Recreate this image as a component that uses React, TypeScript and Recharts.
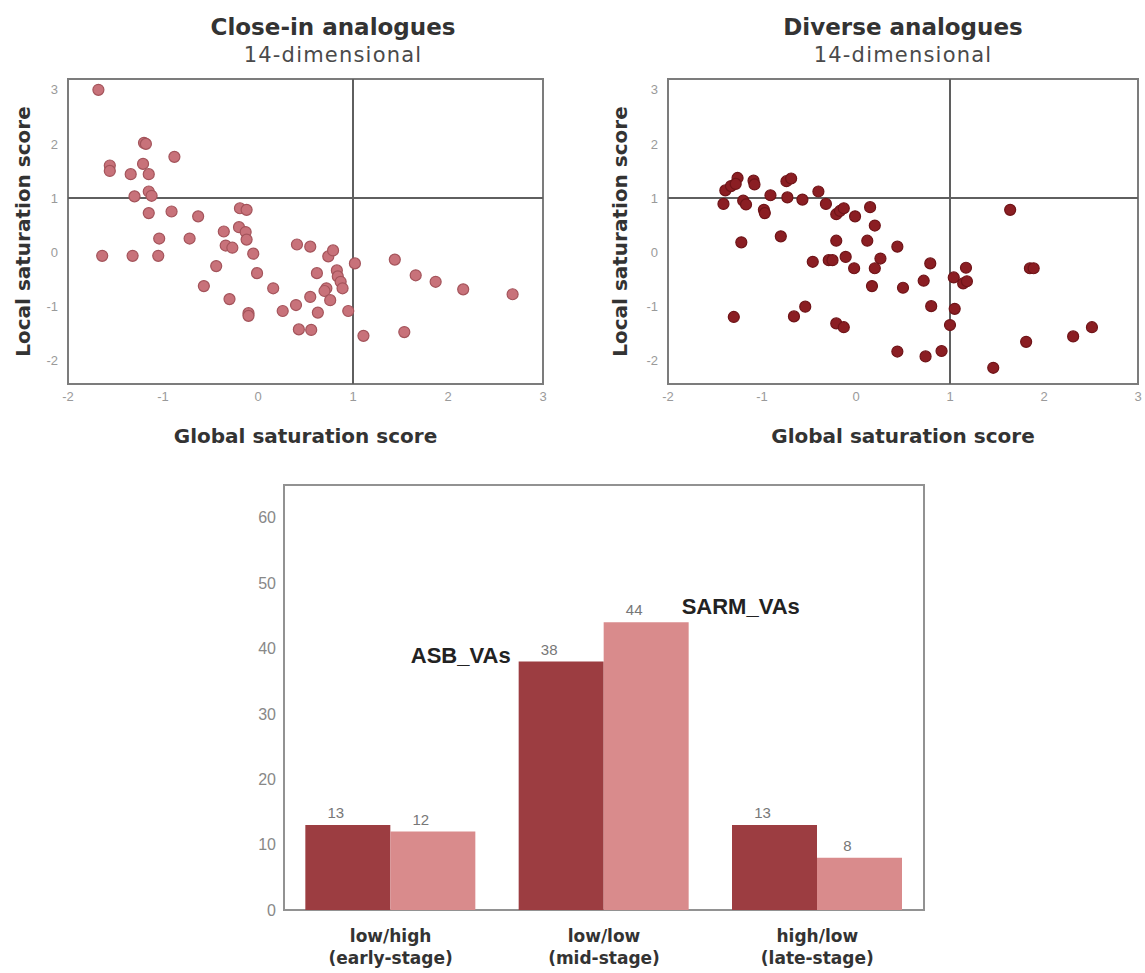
import { ScatterChart, Scatter, XAxis, YAxis, ReferenceLine, ReferenceArea, BarChart, Bar, LabelList } from 'recharts'

// saturation score axes
const SCORE_TICKS = [-2, -1, 0, 1, 2, 3]
const GLOBAL_DOMAIN = [-2, 3]
const LOCAL_DOMAIN = [-2.44, 3.2]
const THRESHOLD = 1

// Close-in analogues (global, local)
const closeInGlobal = [
  -1.68, -1.2, -1.18, -0.88, -1.56, -1.56, -1.34, -1.21, -1.15, -1.3, -1.15, -1.12, -1.15, -0.91, -0.63, -1.04,
  -0.72, -1.64, -1.32, -1.05, -0.36, -0.19, -0.12, -0.2, -0.13, -0.12, -0.34, -0.27, -0.05, -0.44, -0.01, -0.57,
  -0.3, -0.1, -0.1, 0.16, 0.26, 0.41, 0.55, 0.74, 0.79, 0.62, 0.83, 0.84, 0.87, 0.89, 0.72, 0.7, 0.55, 0.4,
  0.76, 0.63, 0.95, 0.43, 0.56, 1.02, 1.11, 1.44, 1.66, 1.87, 2.16, 2.68, 1.54,
]
const closeInLocal = [
  3.0, 2.02, 2.0, 1.76, 1.6, 1.5, 1.44, 1.63, 1.44, 1.03, 1.12, 1.04, 0.72, 0.75, 0.66, 0.25,
  0.25, -0.07, -0.07, -0.07, 0.38, 0.81, 0.78, 0.46, 0.37, 0.23, 0.12, 0.08, -0.03, -0.26, -0.39, -0.63,
  -0.87, -1.13, -1.18, -0.67, -1.09, 0.14, 0.1, -0.08, 0.03, -0.39, -0.34, -0.45, -0.55, -0.67, -0.67, -0.72, -0.83, -0.98,
  -0.89, -1.12, -1.09, -1.43, -1.44, -0.21, -1.55, -0.14, -0.43, -0.55, -0.69, -0.78, -1.48,
]

// Diverse analogues (global, local)
const diverseGlobal = [
  -1.39, -1.41, -1.33, -1.26, -1.28, -1.2, -1.17, -1.22, -1.3, -1.09, -1.08, -0.98, -0.97, -0.91, -0.73, -0.74,
  -0.69, -0.8, -0.57, -0.4, -0.32, -0.21, -0.17, -0.13, -0.01, 0.15, 0.2, -0.21, 0.12, 0.44, -0.46, -0.29,
  -0.25, -0.11, -0.02, 0.26, 0.2, 0.17, 0.5, 0.72, 0.79, 0.8, -0.54, -0.66, -0.21, -0.13, 0.44, 0.74,
  0.91, 1.0, 1.05, 1.04, 1.14, 1.18, 1.17, 1.46, 1.64, 1.81, 1.85, 1.89, 2.31, 2.51,
]
const diverseLocal = [
  1.14, 0.89, 1.22, 1.37, 1.26, 0.95, 0.88, 0.18, -1.2, 1.32, 1.25, 0.78, 0.72, 1.05, 1.01, 1.31,
  1.36, 0.29, 0.97, 1.12, 0.89, 0.7, 0.76, 0.81, 0.66, 0.83, 0.49, 0.21, 0.21, 0.1, -0.18, -0.15,
  -0.15, -0.09, -0.3, -0.12, -0.3, -0.63, -0.66, -0.53, -0.21, -1.0, -1.01, -1.19, -1.32, -1.39, -1.84, -1.93,
  -1.83, -1.35, -1.05, -0.47, -0.58, -0.54, -0.29, -2.14, 0.78, -1.66, -0.3, -0.3, -1.56, -1.39,
]

// bar chart
const stageCategories = ['low/high', 'low/low', 'high/low']
const stageSubLabels = ['(early-stage)', '(mid-stage)', '(late-stage)']
const asbCounts = [13, 38, 13]
const sarmCounts = [12, 44, 8]
const SERIES_NAMES = ['ASB_VAs', 'SARM_VAs']
const ANNOTATED_STAGE = 'low/low'
const COUNT_TICKS = [0, 10, 20, 30, 40, 50, 60]
const COUNT_DOMAIN = [0, 65]

const closeInPoints = closeInGlobal.map((x, i) => ({ x, y: closeInLocal[i] }))
const diversePoints = diverseGlobal.map((x, i) => ({ x, y: diverseLocal[i] }))
const stageData = stageCategories.map((stage, i) => ({ stage, asb: asbCounts[i], sarm: sarmCounts[i] }))

const SANS = '"Liberation Sans", Arial, sans-serif'
const WIDE = '"DejaVu Sans", sans-serif'

function Title({ cx, title }: { cx: number; title: string }) {
  return (
    <>
      <div style={{ position: 'absolute', left: cx - 200, width: 400, top: 16, textAlign: 'center', fontFamily: WIDE, fontWeight: 'bold', fontSize: 23, lineHeight: 1, color: '#333' }}>
        {title}
      </div>
      <div style={{ position: 'absolute', left: cx - 200, width: 400, top: 45, textAlign: 'center', fontFamily: WIDE, fontSize: 21, letterSpacing: 1.2, lineHeight: 1, color: '#4a4a4a' }}>
        14-dimensional
      </div>
    </>
  )
}

interface PanelProps {
  points: { x: number; y: number }[]
  fill: string
  stroke: string
  width: number
  axisWidth: number
  rightMargin: number
  yLabelX: number
}

function SaturationPanel({ points, fill, stroke, width, axisWidth, rightMargin, yLabelX }: PanelProps) {
  return (
    <ScatterChart width={width} height={460} margin={{ top: 79, right: rightMargin, bottom: 0, left: 0 }}>
      <XAxis
        type="number"
        dataKey="x"
        domain={GLOBAL_DOMAIN}
        ticks={SCORE_TICKS}
        allowDataOverflow
        axisLine={false}
        tickLine={false}
        height={76}
        tick={{ fontSize: 13, fill: '#9a9a9a', fontFamily: SANS }}
        label={(p: any) => (
          <text x={p.viewBox.x + p.viewBox.width / 2} y={p.viewBox.y + 59} textAnchor="middle" fontFamily={WIDE} fontWeight="bold" fontSize={20} fill="#333">
            Global saturation score
          </text>
        )}
      />
      <YAxis
        type="number"
        dataKey="y"
        domain={LOCAL_DOMAIN}
        ticks={SCORE_TICKS}
        allowDataOverflow
        axisLine={false}
        tickLine={false}
        tickMargin={4}
        width={axisWidth}
        tick={{ fontSize: 13, fill: '#9a9a9a', fontFamily: SANS }}
        label={(p: any) => (
          <text
            transform={`translate(${p.viewBox.x + yLabelX},${p.viewBox.y + p.viewBox.height / 2}) rotate(-90)`}
            textAnchor="middle"
            fontFamily={WIDE}
            fontWeight="bold"
            fontSize={20}
            fill="#333"
          >
            Local saturation score
          </text>
        )}
      />
      <ReferenceArea x1={GLOBAL_DOMAIN[0]} x2={GLOBAL_DOMAIN[1]} y1={LOCAL_DOMAIN[0]} y2={LOCAL_DOMAIN[1]} fill="none" stroke="#7c7c7c" strokeWidth={2} />
      <ReferenceLine x={THRESHOLD} stroke="#5f5f5f" strokeWidth={2} />
      <ReferenceLine y={THRESHOLD} stroke="#5f5f5f" strokeWidth={2} />
      <Scatter
        data={points}
        isAnimationActive={false}
        shape={(p: any) => <circle cx={p.cx} cy={p.cy} r={5.5} fill={fill} stroke={stroke} strokeWidth={1.2} />}
      />
    </ScatterChart>
  )
}

function StageTick({ x, y, payload }: any) {
  const i = stageCategories.indexOf(payload.value)
  return (
    <text x={x} y={y} textAnchor="middle" fontFamily={WIDE} fontWeight="bold" fontSize={17} fill="#333">
      <tspan x={x} dy={24}>{payload.value}</tspan>
      <tspan x={x} dy={22}>{stageSubLabels[i]}</tspan>
    </text>
  )
}

const valueLabel = (p: any) => (
  <text x={p.x + p.width / 2 - 12} y={p.y - 7} textAnchor="middle" fontFamily={SANS} fontSize={15} fill="#777">
    {p.value}
  </text>
)

const asbName = (p: any) =>
  p.value === ANNOTATED_STAGE ? (
    <text x={p.x - 8} y={p.y + 1} textAnchor="end" fontFamily={SANS} fontWeight="bold" fontSize={22} fill="#222">
      {SERIES_NAMES[0]}
    </text>
  ) : null

const sarmName = (p: any) =>
  p.value === ANNOTATED_STAGE ? (
    <text x={p.x + p.width - 7} y={p.y - 8} textAnchor="start" fontFamily={SANS} fontWeight="bold" fontSize={22} fill="#222">
      {SERIES_NAMES[1]}
    </text>
  ) : null

export default function App() {
  return (
    <div style={{ position: 'absolute', left: 0, top: 0, width: 1145, height: 973, background: '#fff', overflow: 'hidden' }}>
      <Title cx={333} title="Close-in analogues" />
      <Title cx={903} title="Diverse analogues" />

      <div style={{ position: 'absolute', left: 0, top: 0 }}>
        <SaturationPanel points={closeInPoints} fill="#c8727a" stroke="#a4545b" width={560} axisWidth={68} rightMargin={17} yLabelX={30} />
      </div>
      <div style={{ position: 'absolute', left: 560, top: 0 }}>
        <SaturationPanel points={diversePoints} fill="#8b1e23" stroke="#6f1418" width={585} axisWidth={108} rightMargin={7} yLabelX={67} />
      </div>

      {/* stage counts */}
      <div style={{ position: 'absolute', left: 200, top: 460 }}>
        <BarChart width={760} height={513} data={stageData} margin={{ top: 25, right: 36, bottom: 0, left: 0 }} barGap={0} barCategoryGap="10%">
          <XAxis dataKey="stage" axisLine={false} tickLine={false} height={63} interval={0} tick={<StageTick />} />
          <YAxis
            domain={COUNT_DOMAIN}
            ticks={COUNT_TICKS}
            allowDataOverflow
            axisLine={false}
            tickLine={false}
            width={84}
            tick={{ fontSize: 16, fill: '#888', fontFamily: SANS }}
          />
          <Bar dataKey="asb" fill="#9c3d41" isAnimationActive={false}>
            <LabelList dataKey="asb" content={valueLabel} />
            <LabelList dataKey="stage" content={asbName} />
          </Bar>
          <Bar dataKey="sarm" fill="#d98b8c" isAnimationActive={false}>
            <LabelList dataKey="sarm" content={valueLabel} />
            <LabelList dataKey="stage" content={sarmName} />
          </Bar>
          <ReferenceArea x1={stageCategories[0]} x2={stageCategories[2]} y1={COUNT_DOMAIN[0]} y2={COUNT_DOMAIN[1]} fill="none" stroke="#929292" strokeWidth={2} />
        </BarChart>
      </div>
    </div>
  )
}
